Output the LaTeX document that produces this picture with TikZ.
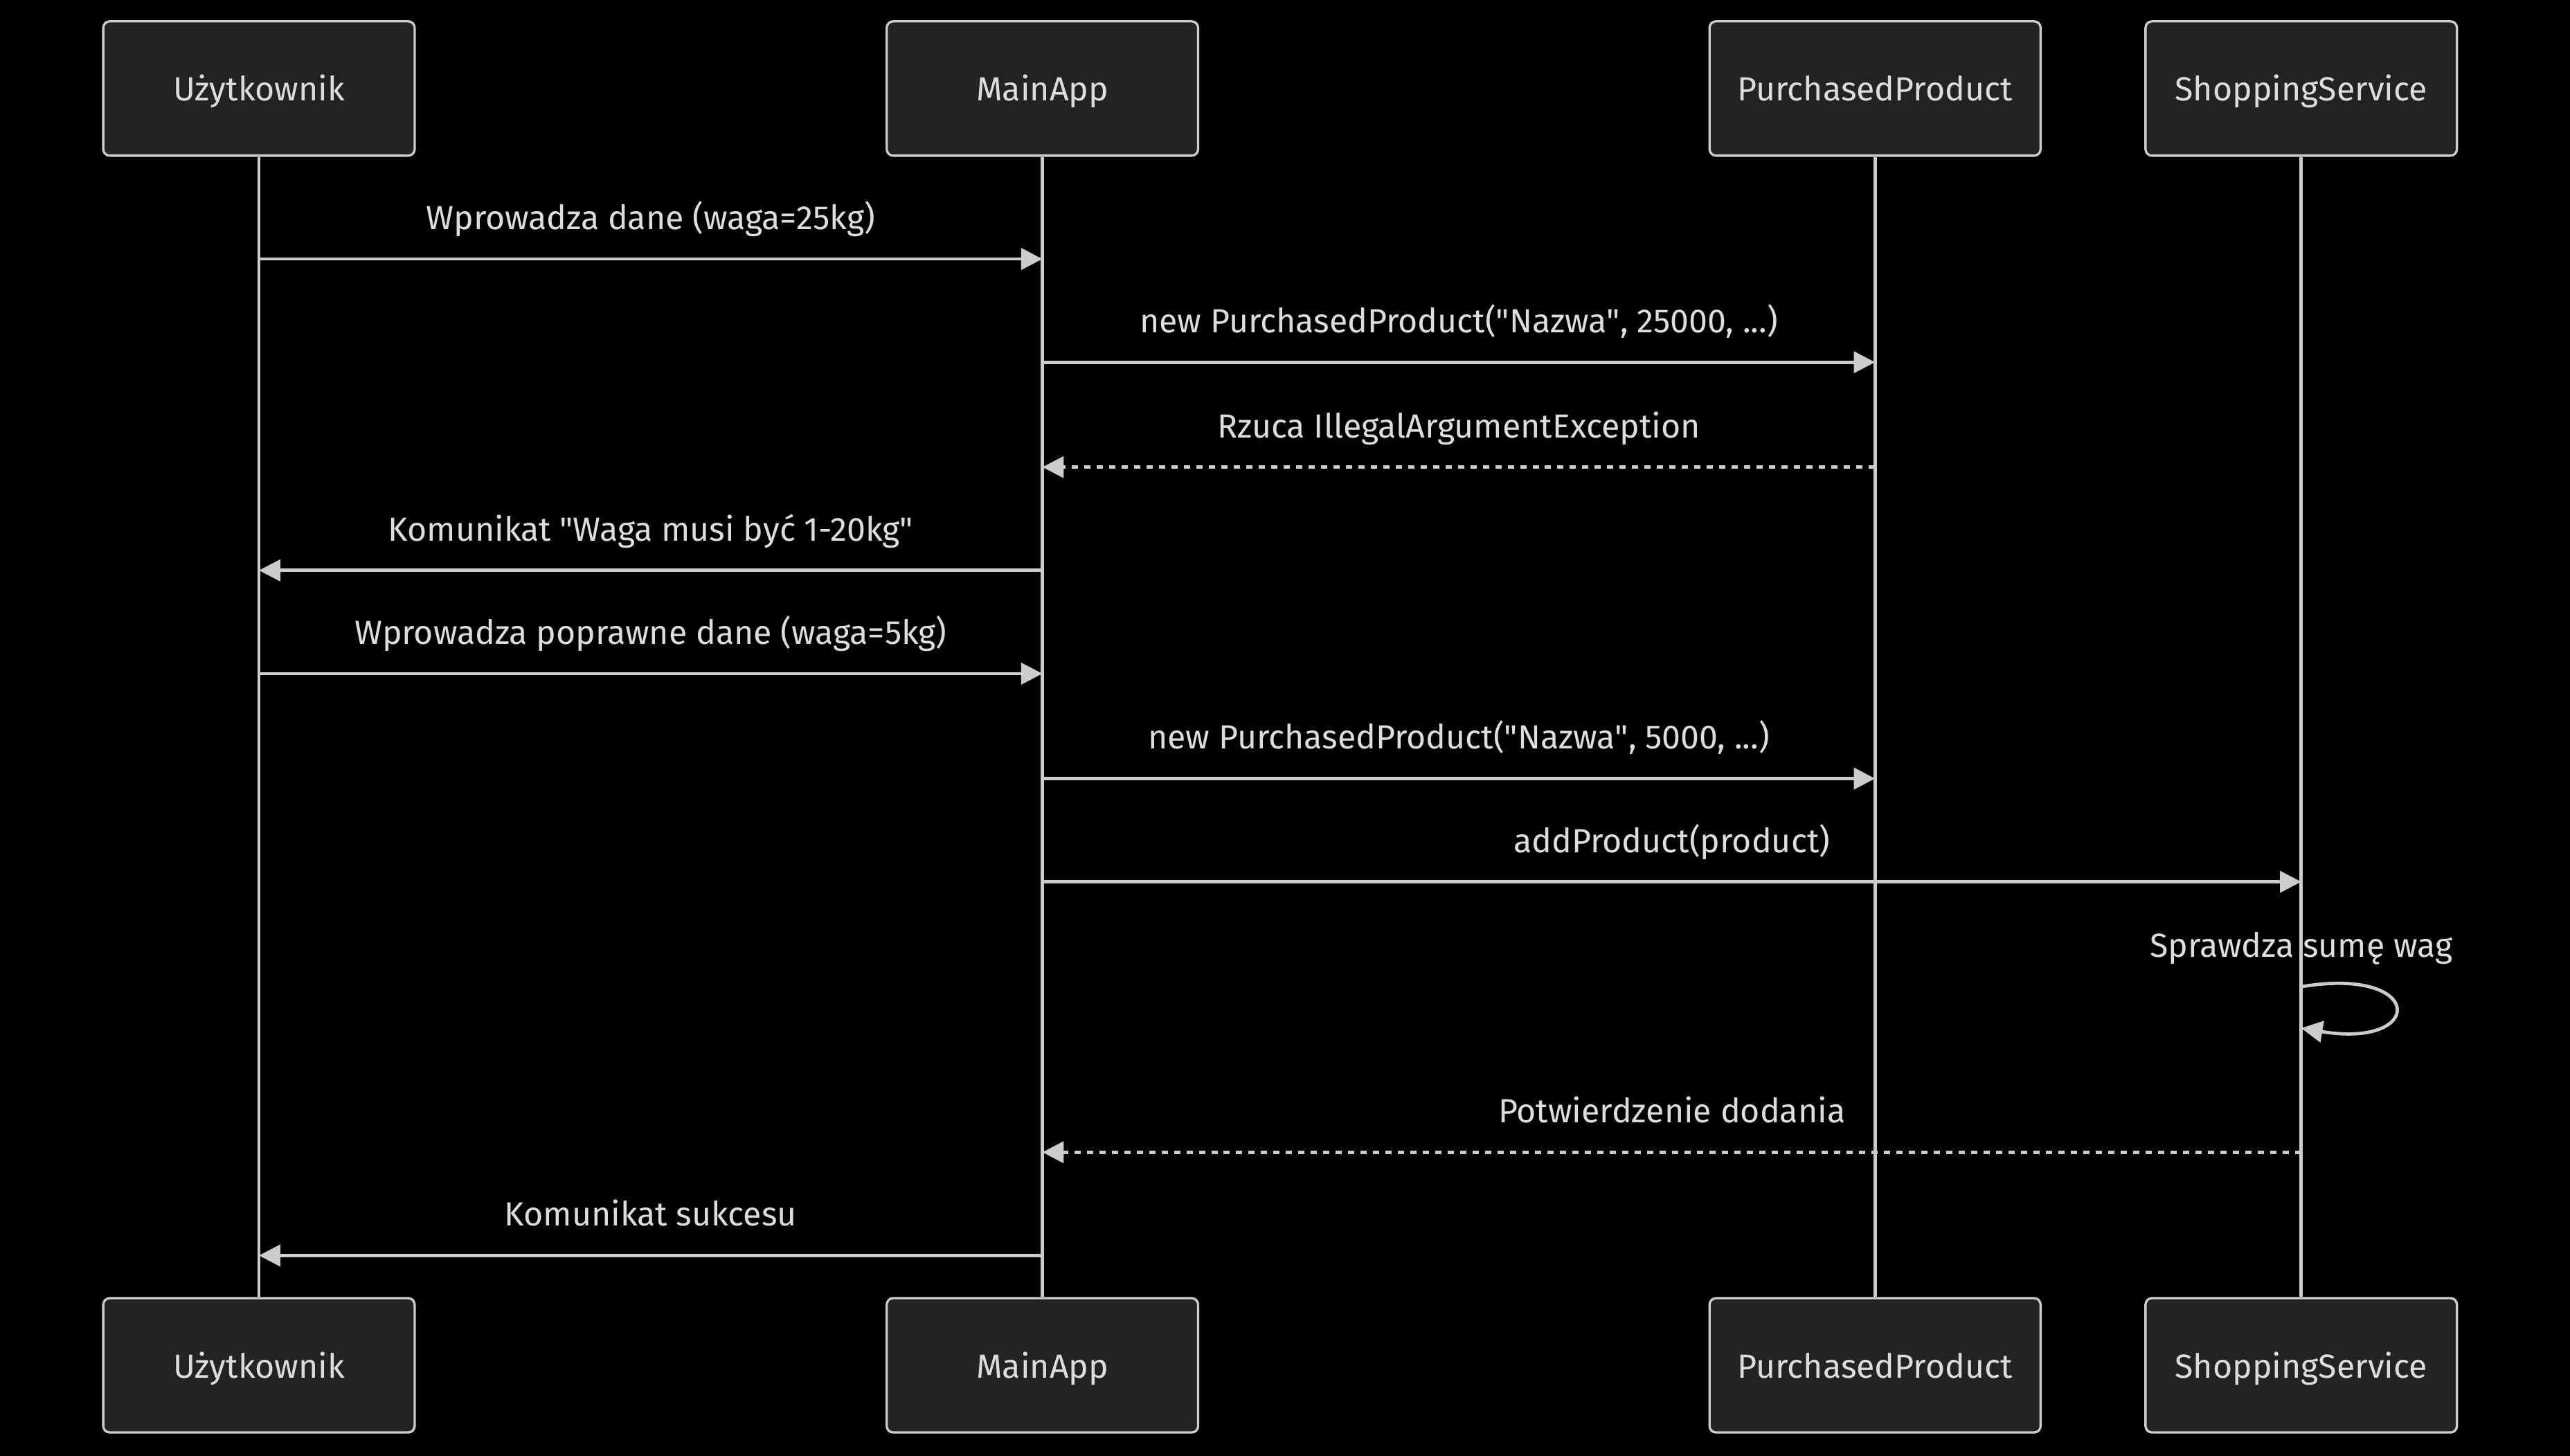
\documentclass[tikz,border=0pt]{standalone}
\usepackage{fontspec}
\setmainfont{Fira Sans}
\usetikzlibrary{positioning, arrows.meta}

\definecolor{boxfill}{HTML}{222323}
\definecolor{linecol}{HTML}{CCCCCC}
\definecolor{textcol}{HTML}{DDDDDD}

\tikzset{
  actor/.style={draw=linecol, fill=boxfill, line width=0.7pt, rounded corners=2pt,
    minimum width=95pt, minimum height=41pt, inner sep=0pt, text=textcol,
    text height=7.6pt, text depth=0pt,
    font=\fontsize{10.2}{12}\selectfont},
  life/.style={draw=linecol, line width=1pt},
  msg/.style={draw=linecol, line width=1pt, -{Triangle[length=6.5pt,width=6.5pt]}},
  reply/.style={msg, dash pattern=on 1.9pt off 1.9pt},
  lbl/.style={text=textcol, anchor=base, inner sep=0pt, yshift=9pt,
    font=\fontsize{10.2}{12}\selectfont}
}

\begin{document}
\begin{tikzpicture}[x=0.5pt,y=-0.5pt]

% background
\fill[black] (0,0) rectangle (1568,888.3);
\useasboundingbox (0,0) rectangle (1568,888.3);

% actors, top and bottom
\foreach \n/\x/\w/\txt in {u/158/95pt/Użytkownik, app/636/95pt/MainApp,
  prod/1144/101pt/PurchasedProduct, shop/1404/95pt/ShoppingService}
{
  \node[actor, minimum width=\w] (\n) at (\x,54) {\txt};
  \node[actor, minimum width=\w] (\n2) at (\x,833) {\txt};
}

% lifelines
\foreach \n in {u,app,prod,shop}
\draw[life] (\n.south) -- (\n2.north);

% message rows
\foreach \i/\y in {1/158,2/221,3/285,4/348,5/411,6/475,7/538,8/602,9/703,10/766}
\coordinate (m\i) at (0,\y);
\coordinate (m8e) at (0,627.3);

% messages
\foreach \i/\a/\b/\s/\txt in {
  1/u/app/msg/{Wprowadza dane (waga=25kg)},
  2/app/prod/msg/{new PurchasedProduct(\textquotedbl Nazwa\textquotedbl, 25000, ...)},
  3/prod/app/reply/{Rzuca IllegalArgumentException},
  4/app/u/msg/{Komunikat \textquotedbl Waga musi być 1-20kg\textquotedbl},
  5/u/app/msg/{Wprowadza poprawne dane (waga=5kg)},
  6/app/prod/msg/{new PurchasedProduct(\textquotedbl Nazwa\textquotedbl, 5000, ...)},
  7/app/shop/msg/{addProduct(product)},
  9/shop/app/reply/{Potwierdzenie dodania},
  10/app/u/msg/{Komunikat sukcesu}}
\draw[\s] (\a |- m\i) -- (\b |- m\i) node[lbl, midway]{\txt};

% self call
\draw[msg] (shop |- m8) .. controls +(76,-12.7) and +(76,12.7) .. (shop |- m8e);
\node[lbl] (selfl) at (shop |- m8) {Sprawdza sumę wag};

\end{tikzpicture}
\end{document}
